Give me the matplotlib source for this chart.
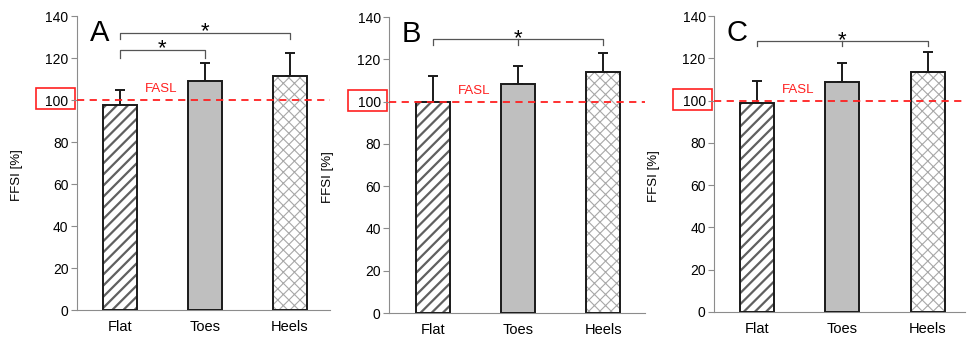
import matplotlib
matplotlib.use('Agg')
import matplotlib.pyplot as plt
import matplotlib.transforms as mtransforms
from matplotlib.patches import Rectangle

plt.rcParams['font.family'] = ['Liberation Sans', 'DejaVu Sans']

# data
conditions = ['Flat', 'Toes', 'Heels']
panel_names = ['A', 'B', 'C']
means_a = [97.5, 109.0, 111.5]
err_a = [7.5, 8.8, 10.7]
means_b = [100.0, 108.5, 114.2]
err_b = [12.2, 8.4, 9.0]
means_c = [98.8, 108.8, 113.6]
err_c = [10.6, 9.1, 9.2]
fasl = 100
yticks = [0, 20, 40, 60, 80, 100, 120, 140]

# significance brackets: (from, to, height, leg drop, middle tick)
brackets_a = [(0, 1, 124, 3.8, False), (0, 2, 132, 2.9, False)]
brackets_b = [(0, 2, 129.5, 2.5, True)]
brackets_c = [(0, 2, 128.2, 2.5, True)]

means = [means_a, means_b, means_c]
errs = [err_a, err_b, err_c]
brackets = [brackets_a, brackets_b, brackets_c]

# layout (figure fractions) and x limits per panel
positions = [[0.0795, 0.080, 0.2614, 0.8725],
             [0.4019, 0.0712, 0.2645, 0.878],
             [0.7376, 0.0742, 0.2593, 0.878]]
xlims = [(-0.506, 2.47), (-0.52, 2.49), (-0.51, 2.44)]

spine_col = '#8c8c8c'
fig = plt.figure(figsize=(9.68, 3.37), dpi=100)

for i in range(3):
    ax = fig.add_axes(positions[i])
    x = range(len(conditions))
    w = 0.4
    m = means[i]

    # hatch layers
    with plt.rc_context({'hatch.linewidth': 1.6}):
        ax.bar(0, m[0], w, color='white', edgecolor='#606060', hatch='///', linewidth=0, zorder=2)
    ax.bar(1, m[1], w, color='#bfbfbf', linewidth=0, zorder=2)
    with plt.rc_context({'hatch.linewidth': 0.8}):
        ax.bar(2, m[2], w, color='white', edgecolor='#a8a8a8', hatch='xxx', linewidth=0, zorder=2)
    # outlines
    ax.bar(x, m, w, fill=False, edgecolor='#1a1a1a', linewidth=1.4, zorder=3)

    ax.errorbar(x, m, yerr=[[0, 0, 0], errs[i]], fmt='none', ecolor='#1a1a1a',
                elinewidth=1.4, capsize=3.5, capthick=1.4, zorder=1)

    ax.axhline(fasl, color='#ff2020', linestyle=(0, (4, 3)), linewidth=1.3, zorder=4)
    ax.text(0.29, fasl + 2.2, 'FASL', color='#ff2020', fontsize=9.5, ha='left', va='bottom')

    # red box round the 100 label
    trans = mtransforms.blended_transform_factory(ax.transAxes, ax.transData)
    ax.add_patch(Rectangle((-0.162, fasl - 4.5), 0.155, 10, transform=trans,
                           fill=False, edgecolor='#ff2020', linewidth=1.2, clip_on=False))

    for (x0, x1, yb, drop, mid) in brackets[i]:
        ax.plot([x0, x0, x1, x1], [yb - drop, yb, yb, yb - drop], color='#555555',
                linewidth=0.9, clip_on=False)
        if mid:
            xm = (x0 + x1) / 2
            ax.plot([xm, xm], [yb, yb - drop], color='#555555', linewidth=0.9, clip_on=False)
        ax.text((x0 + x1) / 2, yb - 2.2, '*', fontsize=16, ha='center', va='baseline')

    ax.text(0.05, 0.99, panel_names[i], transform=ax.transAxes, fontsize=21,
            ha='left', va='top')

    ax.set_xlim(*xlims[i])
    ax.set_ylim(0, 140)
    ax.set_yticks(yticks)
    ax.set_xticks(list(x))
    ax.set_xticklabels(conditions, fontsize=10.5)
    ax.tick_params(axis='y', labelsize=10, length=4, color=spine_col, direction='out', pad=2)
    ax.tick_params(axis='x', length=0, pad=7)
    ax.spines['top'].set_visible(False)
    ax.spines['right'].set_visible(False)
    ax.spines['left'].set_color(spine_col)
    ax.spines['bottom'].set_color(spine_col)
    ax.set_ylabel('FFSI [%]', fontsize=9.5)
    ax.yaxis.set_label_coords(-0.215, 0.46)

fig.savefig('out.png', dpi=100)
